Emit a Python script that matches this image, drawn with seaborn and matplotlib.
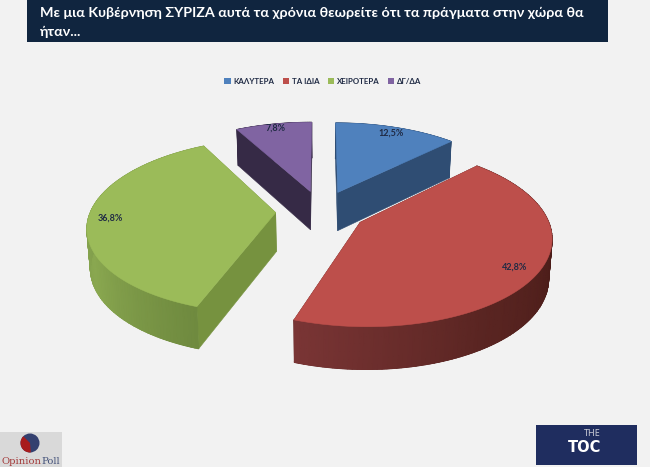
import numpy as np
import matplotlib
matplotlib.use("Agg")
import matplotlib.pyplot as plt
from matplotlib.patches import Polygon, Rectangle, Circle, Wedge
import seaborn as sns

# data
categories = ['ΚΑΛΥΤΕΡΑ', 'ΤΑ ΙΔΙΑ', 'ΧΕΙΡΟΤΕΡΑ', 'ΔΓ/ΔΑ']
values = [12.5, 42.8, 36.8, 7.8]
value_labels = ['12,5%', '42,8%', '36,8%', '7,8%']
title_lines = ['Με μια Κυβέρνηση ΣΥΡΙΖΑ αυτά τα χρόνια θεωρείτε ότι τα πράγματα στην χώρα θα', 'ήταν...']

# colours
top_colors = ['#4f81bd', '#bd4f4b', '#9bbb59', '#8064a2']
cut_colors = ['#2f4d73', '#5a2522', '#76923f', '#362a46']
rim_colors = [['#2f4d73', '#2f4d73'],
              ['#5f2a26', '#4a1c18', '#5a2522', '#7a3535'],
              ['#6f8a3f', '#8aa850', '#7d9a4a', '#7d9a4a'],
              ['#362a46', '#362a46']]
bg = '#f2f2f2'
txt_dark = '#1f2a44'

# shape of the fake 3d pie
cx, cy = 321, 211
R, Ry = 185, 85
persp = 0.15
explode = 0.245
depth = 39
label_r = [0.90, 0.88, 0.88, 0.93]

font = ['Lato', 'Noto Sans', 'DejaVu Sans']
sns.set_theme(style='white')
plt.rcParams['font.family'] = font


def project(theta, r, mid):
    x = explode * np.sin(mid) + r * np.sin(theta)
    y = explode * np.cos(mid) + r * np.cos(theta)
    w = 1 + persp * y
    return cx + R * x / w, cy - Ry * y / w, w


def lower(px, py, w):
    # same point on the underside of the slice
    return cx + (px - cx) * 0.985, py + depth / np.sqrt(w)


fig = plt.figure(figsize=(6.5, 4.67), dpi=100, facecolor=bg)
ax = fig.add_axes([0, 0, 1, 1])

shares = np.array(values) / sum(values)
edges = np.concatenate([[0], np.cumsum(shares)]) * 2 * np.pi

# back slices first, then green, red last
for i in [3, 0, 2, 1]:
    start, end = edges[i], edges[i + 1]
    mid = (start + end) / 2
    angles = np.linspace(start, end, 120)
    rim_x, rim_y, rim_w = project(angles, 1.0, mid)
    ax_, ay_, aw_ = project(mid, 0.0, mid)

    # the two flat cut faces
    for k in [0, -1]:
        b1 = lower(rim_x[k], rim_y[k], rim_w[k])
        b2 = lower(ax_, ay_, aw_)
        ax.add_patch(Polygon([(ax_, ay_), (rim_x[k], rim_y[k]), b1, b2],
                             fc=cut_colors[i], ec=cut_colors[i], lw=0.4))

    # outer wall with its gradient, polygon underneath keeps the edge smooth
    low_x, low_y = lower(rim_x, rim_y, rim_w)
    wall = np.vstack([np.column_stack([rim_x, rim_y]), np.column_stack([low_x, low_y])[::-1]])
    ax.add_patch(Polygon(wall, fc=rim_colors[i][1], ec=rim_colors[i][1], lw=0.4))
    cmap = sns.blend_palette(rim_colors[i], as_cmap=True)
    shade = np.linspace(0, 1, len(angles))
    ax.pcolormesh(np.vstack([rim_x, low_x]), np.vstack([rim_y, low_y]), np.vstack([shade, shade]),
                  cmap=cmap, shading='gouraud', vmin=0, vmax=1)

    ax.add_patch(Polygon(np.vstack([[ax_, ay_], np.column_stack([rim_x, rim_y])]),
                         fc=top_colors[i], ec=top_colors[i], lw=0.4, zorder=2))

    tx, ty, _ = project(mid, label_r[i], mid)
    ax.text(tx, ty, value_labels[i], ha='center', va='center', fontsize=6.5,
            fontweight='bold', color=txt_dark, zorder=3)

# title bar
ax.add_patch(Rectangle((27, 0), 581, 42, fc='#10253f', ec='none'))
ax.text(40, 13, title_lines[0], color='white', fontsize=10.3, fontweight='bold', va='center')
ax.text(40, 32, title_lines[1], color='white', fontsize=10.3, fontweight='bold', va='center')

# legend
handles = [Rectangle((0, 0), 1, 1, fc=c, ec='none') for c in top_colors]
ax.legend(handles, categories, ncol=4, loc='center', bbox_to_anchor=(323 / 650, 1 - 81 / 467),
          frameon=False, prop={'size': 5.7, 'weight': 'bold'}, labelcolor=txt_dark,
          handlelength=0.8, handleheight=0.8, handletextpad=0.4, columnspacing=1.0)

# opinion poll logo
ax.add_patch(Rectangle((0, 432), 62, 35, fc='#d9d9d9', ec='none'))
ax.add_patch(Circle((30, 443), 9.5, fc='#34406f', ec='none'))
ax.add_patch(Wedge((30, 443), 9.5, 85, 225, fc='#a81c1c', ec='none'))
ax.text(1, 461, 'Opinion', family='DejaVu Serif', fontsize=7.2, color='#a33a3a', va='center')
ax.text(41, 461, 'Poll', family='DejaVu Serif', fontsize=7.2, color='#44527a', va='center')

# toc logo
ax.add_patch(Rectangle((536, 425), 101, 40, fc='#1f2d5f', ec='none'))
ax.text(592, 434, 'THE', color='#c9cbd6', fontsize=6.5, ha='center', va='center', family='Noto Sans', fontweight='light')
ax.text(585, 448, 'TOC', color='white', fontsize=10.5, ha='center', va='center', family='DejaVu Sans', fontweight='bold')

ax.set_xlim(0, 650)
ax.set_ylim(467, 0)
ax.axis('off')

fig.savefig('out.png', dpi=100, facecolor=bg)
